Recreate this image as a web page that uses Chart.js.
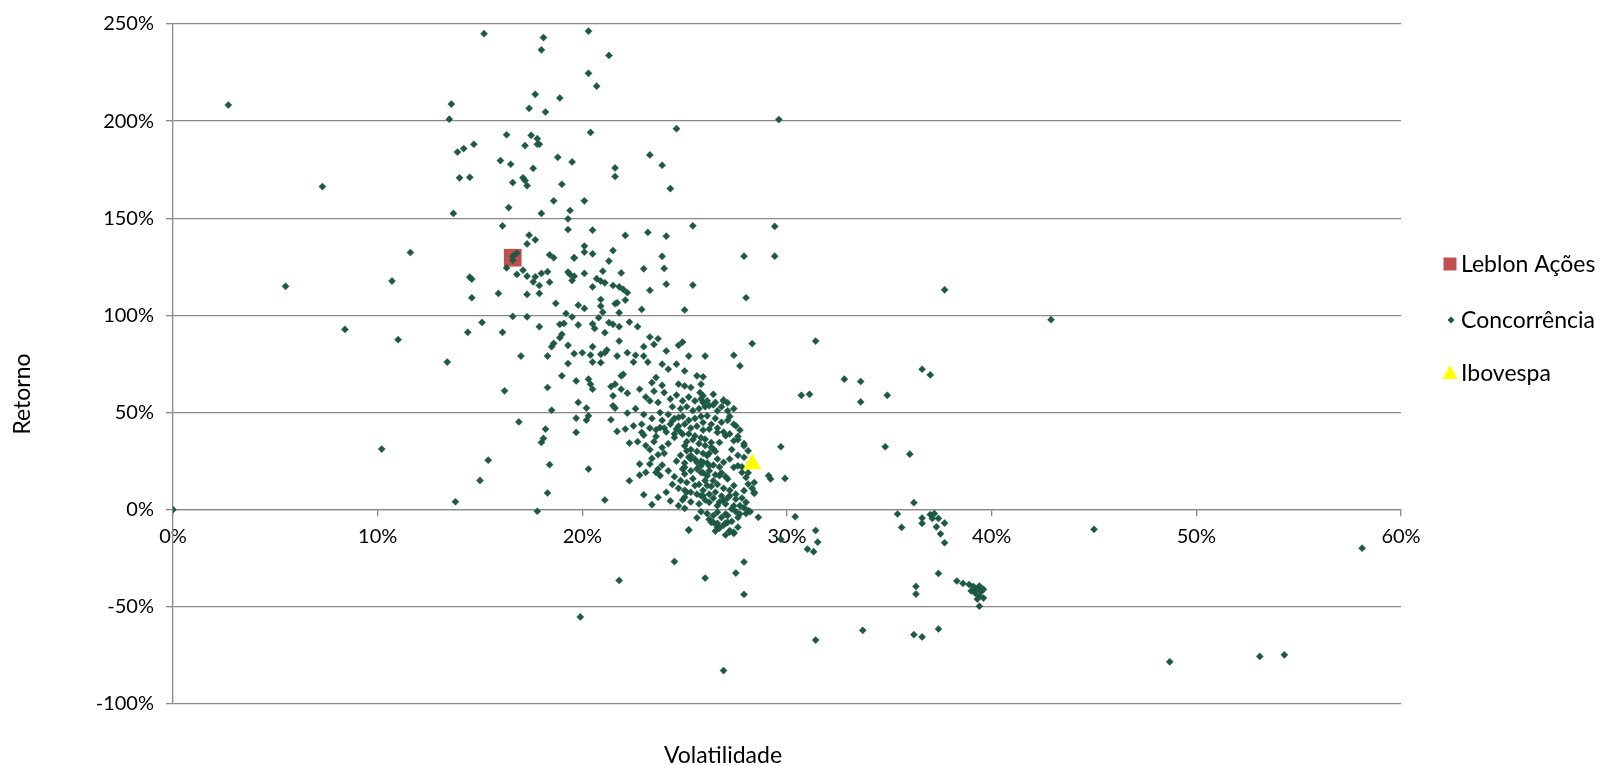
<!DOCTYPE html>
<html>
<head>
<meta charset="utf-8">
<script src="https://cdn.jsdelivr.net/npm/chart.js@4.4.1/dist/chart.umd.min.js"></script>
<style>
html,body{margin:0;padding:0;background:#fff;}
#c{display:block;}
</style>
</head>
<body>
<canvas id="c" width="1606" height="765" style="width:1606px;height:765px"></canvas>
<script>
// ---- Data (volatilidade %, retorno %) ----
const xTicks = [0, 10, 20, 30, 40, 50, 60];
const yTicks = [-100, -50, 0, 50, 100, 150, 200, 250];
const seriesNames = ['Leblon Ações', 'Concorrência', 'Ibovespa'];

const leblonVol = [16.6];
const leblonRet = [129.7];

const ibovVol = [28.3];
const ibovRet = [23.5];

const concVol = [
 2.7,15.2,18.1,18.0,20.3,21.3,20.3,20.7,13.6,13.5,17.7,18.9,17.4,18.2,20.4,16.3,17.5,17.8,17.9,17.8,17.2,14.7,14.2,13.9,16.0,16.5,17.6,18.8,19.5,14.0,14.5,17.1,17.2,17.3,16.6,19.0,7.3,18.6,20.1,16.4,19.4,13.7,18.0,19.3,16.1,19.3,20.5,17.4,17.7,17.3,11.6,20.1,20.1,18.4,18.6,19.6,20.5,21.3,16.6,16.8,
 29.6,24.6,23.3,23.9,21.6,21.6,24.3,25.4,29.4,22.1,23.2,24.1,21.5,23.9,27.9,29.4,
 5.5,10.7,14.5,14.6,14.6,15.9,16.3,16.6,15.1,14.4,16.1,8.4,11.0,13.4,16.2,10.2,15.4,15.0,13.8,0,
 16.6,17.1,16.8,17.3,17.7,18.0,18.3,17.6,17.9,18.4,19.6,19.3,19.4,19.6,19.5,20.1,20.5,20.7,20.9,21.1,21.0,21.9,21.5,21.8,22.0,22.2,23.0,24.0,24.1,25.4,23.3,17.3,17.9,18.7,19.8,20.1,20.9,20.9,21.0,21.6,21.7,22.1,22.9,25.0,17.3,19.2,19.5,20.8,21.8,21.3,21.5,21.8,18.9,19.1,17.9,19.8,20.5,20.6,21.1,22.3,22.7,23.3,23.7,24.7,24.9,19.0,18.9,18.6,18.5,19.3,20.5,21.2,21.1,21.8,23.0,23.5,24.1,17.0,18.3,19.6,20.0,20.4,20.5,20.9,20.9,21.7,22.2,22.6,23.0,23.2,22.5,19.3,23.9,24.2,24.6,25.2,25.0,19.0,19.7,20.3,20.4,20.5,21.4,21.6,21.9,22.0,21.9,22.2,23.4,23.6,24.0,18.3,21.5,24.7,25.0,25.3,25.6,25.8,
 19.8,20.2,18.5,21.5,21.6,16.9,19.7,20.3,20.2,21.4,22.2,23.3,23.7,18.2,18.1,18.0,19.7,21.7,22.1,22.5,22.9,23.0,23.6,23.6,23.8,24.0,22.3,23.3,23.4,23.7,22.8,23.3,23.1,22.8,23.7,23.8,23.6,18.4,20.3,22.3,18.3,23.0,21.1,23.7,23.4,24.3,24.7,25.0,17.8,25.6,25.2,24.5,24.9,24.4,24.7,24.6,25.0,25.1,25.3,25.3,25.6,25.8,25.0,25.0,25.1,25.0,25.5,25.8,
 28.0,28.3,31.4,26.0,27.4,27.7,25.9,32.8,33.6,30.7,31.1,33.6,34.9,26.4,26.9,25.9,26.1,25.75,
 29.7,34.8,29.1,29.2,29.9,28.4,28.6,30.4,31.4,31.5,35.4,
 25.9,26.2,26.5,26.9,26.6,27.1,27.2,27.5,27.6,27.9,28.1,27.4,27.0,26.7,26.4,26.1,25.9,26.2,26.6,26.9,27.2,27.4,27.6,27.8,28.0,28.1,28.4,27.9,27.4,27.1,26.7,26.4,26.1,25.9,26.2,26.6,26.9,27.2,27.5,27.7,28.0,28.1,27.7,27.3,27.0,26.6,26.4,26.6,27.1,27.2,27.4,26.1,25.9,26.2,26.6,26.0,26.3,25.8,26.1,
 37.7,42.9,36.6,37.0,36.0,36.2,35.6,37.0,37.2,37.1,36.6,36.6,37.4,37.7,37.3,37.5,37.7,45.0,
 31.0,31.3,58.1,37.4,36.3,36.3,38.3,38.6,38.9,39.1,39.2,39.3,39.4,39.5,39.0,39.2,39.6,39.4,39.6,39.3,39.4,31.4,33.7,36.2,36.6,37.4,48.7,53.1,54.3,
 19.9,21.8,24.5,25.2,26.0,26.9,27.5,27.9,27.9,26.3,26.6,26.7,27.0,27.2,27.4,29.7,
 24.3,24.6,24.9,25.2,25.5,25.8,24.4,24.8,25.1,25.4,25.7,26.0,24.2,24.5,24.9,25.2,25.5,25.8,24.3,24.7,25.0,25.3,25.6,25.9,24.1,24.5,24.8,25.2,25.5,25.8,
 25.1,25.4,25.7,26.0,26.3,25.3,25.6,25.9,26.2,26.5,24.8,25.2,25.5,25.8,26.1,26.4,26.7,25.0,24.6,24.9,25.3,25.6,25.9,26.2,26.5,26.8,27.0,
 24.5,24.8,25.1,25.4,25.7,26.0,26.3,26.6,26.9,27.2,24.7,25.0,25.3,25.6,25.9,26.2,26.5,26.8,27.1,27.5,27.8,24.9,25.3,25.7,26.0,26.4,26.7,27.0,27.4,
 25.8,26.1,26.4,26.8,27.1,27.5,27.9,26.2,26.6,26.9,27.3,27.6,28.0,26.5,27.0,27.6,28.2,
 26.4,26.8,27.1,27.4,26.5,26.8,27.1,27.4,27.7,26.3,26.6,26.9,27.2,27.6,27.9,27.3,27.6,27.9,28.2,27.8,28.1,28.4,28.3,
 22.8,23.1,23.5,23.9,22.6,23.0,23.4,23.8,22.9,23.3,23.9,22.7,23.1,23.5,23.9,24.2,24.0,23.9,24.2,24.4,24.1
];
const concRet = [
 208.3,245,243,236.7,246.3,233.8,224.6,218,208.8,201,213.8,211.9,206.6,204.7,194.2,193,192.7,191,188.1,188.1,187.4,188.1,185.9,184.1,179.7,177.8,175.7,181.4,179,170.8,171.1,170.8,169.5,166.8,168.4,167.5,166.3,159,159,155.5,154,152.5,152.5,149.7,146.1,144.2,143.9,141.3,138.9,136.8,132.4,135.7,132.6,131.2,129.7,129.7,131.7,128,130.5,132,
 200.8,196.1,182.6,177.3,175.9,171.5,165.3,146.1,145.8,141.2,142.7,140.8,133.4,130.4,130.5,130.5,
 115,117.7,119.7,118.7,109.1,111.3,124.5,99.5,96.4,91.3,91.3,92.8,87.5,76,61.2,31.2,25.5,15.1,4.1,0,
 128.4,123.3,121.1,120.2,119.9,121.6,122.5,117.3,115.4,117.1,129.6,122.3,121.1,120.2,118,121.6,114.7,118.9,117.7,116.8,122.8,121.9,115.4,114.7,113.4,111.7,124,124.2,116.1,115.6,112.9,110.8,111.3,106.2,105.3,103.6,108.2,104.8,101.7,106,106.5,107.9,103.1,102.8,99.3,101,99.2,98.8,101.4,96.3,95.4,94.2,95.4,95.9,94.2,95.1,95.7,93.3,91.1,96.6,94.2,88.9,88,84.6,86.3,90.3,88.5,85.6,83.9,84.6,83.9,82.2,80.8,86.8,83.9,85.1,81.7,79.1,79.1,80.3,80.8,79.6,76,80,75.7,79.1,80.8,79.5,79.1,76,76,75.2,74.9,72.3,74.9,79.1,71.4,68.9,66.3,67.2,64.6,62,63.4,64.6,68.9,69.7,62,60,65.4,68,60.3,62.9,58.6,64.6,63.7,62.9,68.9,64.6,
 55.2,52.3,51.2,53.5,52.3,45.2,47.1,48.3,46.1,46.3,49.7,56,55.2,41.5,36.7,34.6,39.8,40.3,41.5,43.2,39.8,38.4,37.7,41.1,42.3,42,34.3,30.9,26.4,28.3,23.5,23.5,19.2,17.8,20.9,17.5,19.2,23.2,20.9,14.9,8.6,7.7,5,6.4,2.6,4.5,2.1,0.7,-0.8,-4.2,-10.4,37.2,38.9,45.8,47.5,41.5,32.9,30.3,27.8,26.1,24.4,22.6,21.8,18.4,9,6.4,12.4,7.2,
 109.1,85.5,86.8,79.1,79.5,74,68.4,67.2,66,58.9,59.4,55.5,58.9,59.4,56.5,58.6,56,60.3,
 32.4,32.4,17.5,15.8,16.1,8.4,-3.9,-3.6,-10.7,-16.7,-2.2,
 55.2,53.5,55.2,56.0,50.9,50.9,48.0,43.2,37.7,32.9,30.3,35.5,38.1,34.6,31.2,27.8,24.4,22.6,26.1,24.4,26.1,21.8,22.6,19.2,16.6,13.2,9.0,9.8,12.4,15.8,17.5,14.9,12.4,7.2,3.8,2.1,4.7,7.2,5.5,2.1,3.8,-0.5,-2.2,0.4,-2.2,-1.3,-6.5,-9.0,-6.5,-10.8,-11.6,48.3,44.9,41.5,39.8,36.3,34.6,19.2,17.5,
 113.2,97.8,72.3,69.4,28.6,3.6,-9.1,-2.5,-2,-4.5,-4.3,-7,-4.5,-6.9,-8.8,-12.4,-17,-10.1,
 -20.3,-21.6,-19.8,-32.8,-39.5,-43.4,-36.7,-37.9,-38.5,-39.5,-40.5,-41.2,-39.3,-42,-41.8,-43,-41,-44.5,-45.5,-46,-49.7,-67.1,-62.1,-64.3,-65.5,-61.4,-78.3,-75.5,-74.7,
 -55.2,-36.4,-26.7,-10.5,-35.2,-82.8,-32.6,-26.9,-43.6,-6.5,-8.2,-9.5,-6.9,-11.4,-12.2,-15.2,
 57,59,56,58,56,57,53,52,53,51,52,53,49,47,48,46,47,48,44,43,44,42,43,41,40,39,40,39,38,37,
 35,36,34,33,32,31,30,29,29,30,28,27,26,25,24,23,22,24,25,21,20,21,19,20,18,19,17,
 17,15,14,16,13,15,12,13,11,10,11,10,9,8,10,8,9,7,6,8,6,5,4,3,5,6,4,3,2,
 -1,-2,-3,-4,-3,-1,1,-5,-7,-8,-6,-4,-2,-11,-13,-9,-1,
 54,53,55,52,47,45,46,44,41,44,42,40,39,36,34,31,28,27,24,22,19,14,11,
 62,58,61,64,52,49,47,50,44,42,46,35,33,35,32,34,29,23,20,13,9
];

const toPts = (xs, ys) => xs.map((x, i) => ({x: x, y: ys[i]}));

const FONT = "'Lato', 'Open Sans', sans-serif";
const GRID = '#898989';
const GREEN = '#1e5944';

const textPlugin = {
  id: 'extraText',
  afterDraw(chart) {
    const c = chart.ctx;
    c.save();
    c.fillStyle = '#000';
    c.font = "23px " + FONT;
    c.textBaseline = 'middle';
    c.textAlign = 'center';
    c.fillText('Volatilidade', 723, 756);
    c.save();
    c.translate(23, 394);
    c.rotate(-Math.PI / 2);
    c.fillText('Retorno', 0, 0);
    c.restore();
    // legend
    const lx = 1450, tx = 1461;
    const rows = [264, 320, 373];
    const ds = chart.data.datasets;
    c.textAlign = 'left';
    c.fillStyle = ds[0].backgroundColor;
    c.fillRect(lx - 6.5, rows[0] - 6.5, 13, 13);
    c.fillStyle = GREEN;
    c.beginPath();
    c.moveTo(lx + 1 - 3.5, rows[1]); c.lineTo(lx + 1, rows[1] - 3.5); c.lineTo(lx + 4.5, rows[1]); c.lineTo(lx + 1, rows[1] + 3.5); c.closePath(); c.fill();
    c.fillStyle = '#FFFF00';
    c.beginPath();
    c.moveTo(lx, rows[2] - 8); c.lineTo(lx + 7.5, rows[2] + 6); c.lineTo(lx - 7.5, rows[2] + 6); c.closePath(); c.fill();
    c.fillStyle = '#000';
    c.font = "23px " + FONT;
    for (let i = 0; i < 3; i++) c.fillText(seriesNames[i], tx, rows[i] + 1);
    c.restore();
  }
};

new Chart(document.getElementById('c'), {
  type: 'scatter',
  data: {
    datasets: [
      {label: seriesNames[0], data: toPts(leblonVol, leblonRet), pointStyle: 'rect', pointRadius: 12.5, pointHoverRadius: 12.5,
       backgroundColor: '#C0504D', borderColor: '#C0504D', borderWidth: 0, order: 3},
      {label: seriesNames[1], data: toPts(concVol, concRet), pointStyle: 'rectRot', pointRadius: 3.6, pointHoverRadius: 3.6,
       backgroundColor: GREEN, borderColor: GREEN, borderWidth: 0.4, order: 2},
      {label: seriesNames[2], data: toPts(ibovVol, ibovRet), pointStyle: 'triangle', pointRadius: 10.5, pointHoverRadius: 10.5,
       backgroundColor: '#FFFF00', borderColor: '#FFFF00', borderWidth: 0, order: 1}
    ]
  },
  options: {
    responsive: false,
    animation: false,
    devicePixelRatio: 1,
    layout: {padding: {left: 0, top: 22, right: 205, bottom: 61}},
    plugins: {legend: {display: false}, tooltip: {enabled: false}},
    scales: {
      x: {
        type: 'linear', position: {y: 0}, min: xTicks[0], max: xTicks[xTicks.length - 1],
        afterBuildTicks: (s) => { s.ticks = xTicks.map(v => ({value: v})); },
        ticks: {callback: v => v + '%', color: '#000', font: {family: FONT, size: 20}, padding: 9, maxRotation: 0, autoSkip: false},
        grid: {drawOnChartArea: false, drawTicks: true, tickLength: 6, color: GRID, lineWidth: 1.3},
        border: {display: true, color: GRID, width: 1.3}
      },
      y: {
        type: 'linear', min: yTicks[0], max: yTicks[yTicks.length - 1],
        afterBuildTicks: (s) => { s.ticks = yTicks.map(v => ({value: v})); },
        afterFit: (s) => { s.width = 173; },
        ticks: {callback: v => v + '%', color: '#000', font: {family: FONT, size: 20}, padding: 12},
        grid: {color: GRID, lineWidth: 1.3, tickLength: 7},
        border: {display: true, color: GRID, width: 1.3}
      }
    }
  },
  plugins: [textPlugin]
});
</script>
</body>
</html>
